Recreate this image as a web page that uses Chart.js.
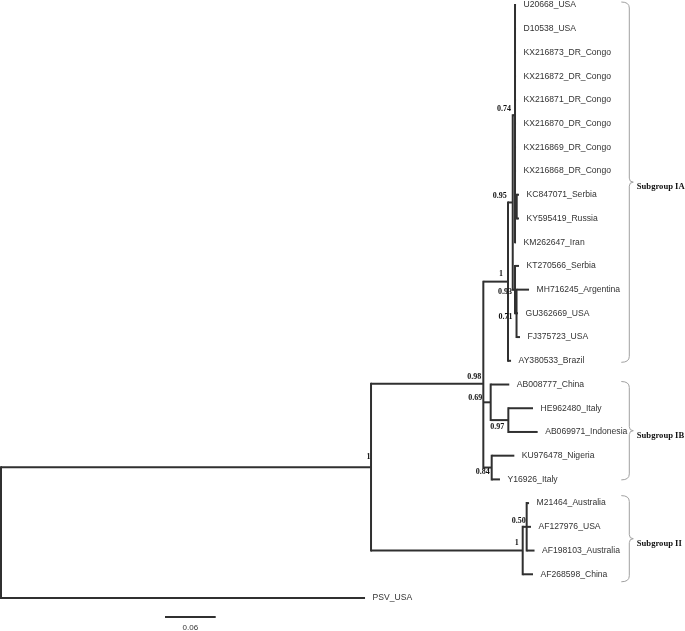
<!DOCTYPE html>
<html><head><meta charset="utf-8">
<script src="https://cdn.jsdelivr.net/npm/chart.js@4"></script>
<style>html,body{margin:0;padding:0;background:#fff}canvas{display:block}</style>
</head><body>
<canvas id="c" width="685" height="631"></canvas>
<script>
// ---- DATA ----
const leafNames = ['U20668_USA','D10538_USA','KX216873_DR_Congo','KX216872_DR_Congo','KX216871_DR_Congo','KX216870_DR_Congo','KX216869_DR_Congo','KX216868_DR_Congo','KC847071_Serbia','KY595419_Russia','KM262647_Iran','KT270566_Serbia','MH716245_Argentina','GU362669_USA','FJ375723_USA','AY380533_Brazil','AB008777_China','HE962480_Italy','AB069971_Indonesia','KU976478_Nigeria','Y16926_Italy','M21464_Australia','AF127976_USA','AF198103_Australia','AF268598_China','PSV_USA'];
const leafDepths = [0.6095,0.6095,0.6095,0.6095,0.6095,0.6095,0.6095,0.6095,0.6130,0.6130,0.6095,0.6130,0.6249,0.6118,0.6142,0.6036,0.6015,0.6296,0.6351,0.6075,0.5905,0.6249,0.6272,0.6314,0.6296,0.4308];
const leafParents = ['N074','N074','N074','N074','N074','N074','N074','N074','NKCKY','NKCKY','N074','N093','N071','N071','N071','IA','N069','N097','N097','N084','N084','N050','N050','N050','II','root'];
const nodeIds     = ['root','A','B','IA','N095','N074','NKCKY','N093','N071','N069','N097','N084','II','N050'];
const nodeParents = [null,'root','A','B','IA','N095','N074','N095','N093','B','N069','B','A','II'];
const nodeDepths  = [0,0.4379,0.5708,0.6000,0.6056,0.6083,0.6103,0.6083,0.6101,0.5795,0.6004,0.5807,0.6174,0.6221];
const nodeSupport = ['','1','0.98','1','0.95','0.74','','0.93','0.71','0.69','0.97','0.84','1','0.50'];
const groupNames = ['Subgroup IA','Subgroup IB','Subgroup II'];
const groupFirstLeaf = [0,16,21];
const groupLastLeaf = [15,20,24];
const scaleBarLength = 0.06;
const scaleBarLabel = '0.06';

// ---- STYLE ----
const lineColor = '#303030';
const supportOffsets = { A:[-0.5,-10], B:[-2,-7], IA:[-5,-8], N095:[-6,-7], N074:[-4,-6], N093:[-3,2], N071:[-4,4], N069:[-8.5,-4], N097:[-4,7], N084:[-2,4], II:[-4,-8], N050:[-1,-6] };
const bracketPad = [[3,1.5],[3,0.5],[7.5,7.5]];
const bracketX = 629.3;
const scaleBarStart = 0.1941, scaleBarRow = 25.8, scaleLabelRow = 26.27;

// ---- layout computation ----
const yOf = {};
leafNames.forEach((n,i)=>{ yOf[n]=i; });
const depthOf = {};
leafNames.forEach((n,i)=>{ depthOf[n]=leafDepths[i]; });
nodeIds.forEach((n,i)=>{ depthOf[n]=nodeDepths[i]; });
const parentOf = {};
leafNames.forEach((n,i)=>{ parentOf[n]=leafParents[i]; });
nodeIds.forEach((n,i)=>{ if(nodeParents[i]) parentOf[n]=nodeParents[i]; });
const children = {};
nodeIds.forEach(n=>children[n]=[]);
Object.keys(parentOf).forEach(c=>children[parentOf[c]].push(c));
function computeY(n){
  if (yOf[n]!==undefined) return yOf[n];
  const ys = children[n].map(computeY);
  yOf[n] = ys.reduce((a,b)=>a+b,0)/ys.length;
  return yOf[n];
}
computeY('root');

const xMin = -1/845, xMax = xMin + 685/845;
const yMin = -5/23.72, yMax = yMin + 631/23.72;

const datasets = [];
function seg(pts, cap){ datasets.push({data:pts, showLine:true, borderColor:lineColor, borderWidth:2, pointRadius:0, borderCapStyle:cap||'butt', fill:false, tension:0}); }
Object.keys(parentOf).forEach(c=>{
  const p = parentOf[c];
  seg([{x:depthOf[p],y:yOf[c]},{x:depthOf[c],y:yOf[c]}]);
});
nodeIds.forEach(n=>{
  const ys = children[n].map(c=>yOf[c]);
  seg([{x:depthOf[n],y:Math.min(...ys)},{x:depthOf[n],y:Math.max(...ys)}],'square');
});
seg([{x:xMin,y:yOf['root']},{x:0,y:yOf['root']}]);
seg([{x:scaleBarStart,y:scaleBarRow},{x:scaleBarStart+scaleBarLength,y:scaleBarRow}]);

const textPlugin = {
  id:'treeText',
  afterDatasetsDraw(chart){
    const ctx = chart.ctx, xs = chart.scales.x, ys = chart.scales.y;
    ctx.save();
    // leaf labels
    ctx.fillStyle = '#333';
    ctx.font = '8.6px "Liberation Sans", Arial, sans-serif';
    ctx.textAlign = 'left'; ctx.textBaseline = 'middle';
    leafNames.forEach((n,i)=>{
      ctx.fillText(n, xs.getPixelForValue(leafDepths[i]) + 7.5, ys.getPixelForValue(i));
    });
    // support values
    ctx.fillStyle = '#111';
    ctx.font = 'bold 8px "Liberation Serif", "Times New Roman", serif';
    ctx.textAlign = 'right';
    nodeIds.forEach((n,i)=>{
      if (!nodeSupport[i]) return;
      const o = supportOffsets[n] || [-2,-6];
      ctx.fillText(nodeSupport[i], xs.getPixelForValue(nodeDepths[i]) + o[0], ys.getPixelForValue(yOf[n]) + o[1]);
    });
    // brackets
    ctx.strokeStyle = '#a0a0a0'; ctx.lineWidth = 1;
    ctx.fillStyle = '#111';
    ctx.font = 'bold 8.6px "Liberation Serif", "Times New Roman", serif';
    ctx.textAlign = 'left';
    groupNames.forEach((g,i)=>{
      const top = ys.getPixelForValue(groupFirstLeaf[i]) - bracketPad[i][0];
      const bot = ys.getPixelForValue(groupLastLeaf[i]) + bracketPad[i][1];
      const mid = (top+bot)/2, bx = bracketX;
      ctx.beginPath();
      ctx.moveTo(bx-8, top);
      ctx.quadraticCurveTo(bx, top, bx, top+6);
      ctx.lineTo(bx, mid-4);
      ctx.quadraticCurveTo(bx, mid, bx+4, mid);
      ctx.quadraticCurveTo(bx, mid, bx, mid+4);
      ctx.lineTo(bx, bot-6);
      ctx.quadraticCurveTo(bx, bot, bx-8, bot);
      ctx.stroke();
      ctx.fillText(g, bx+7.5, mid+5);
    });
    // scale label
    ctx.fillStyle = '#333';
    ctx.font = '8px "Liberation Sans", Arial, sans-serif';
    ctx.textAlign = 'center';
    ctx.fillText(scaleBarLabel, xs.getPixelForValue(scaleBarStart + scaleBarLength/2), ys.getPixelForValue(scaleLabelRow));
    ctx.restore();
  }
};

new Chart(document.getElementById('c'), {
  type:'scatter',
  data:{datasets},
  options:{
    responsive:false, animation:false, devicePixelRatio:1,
    layout:{padding:0},
    plugins:{legend:{display:false}, tooltip:{enabled:false}},
    scales:{
      x:{type:'linear', min:xMin, max:xMax, display:false},
      y:{type:'linear', min:yMin, max:yMax, reverse:true, display:false}
    }
  },
  plugins:[textPlugin]
});
</script>
</body></html>
